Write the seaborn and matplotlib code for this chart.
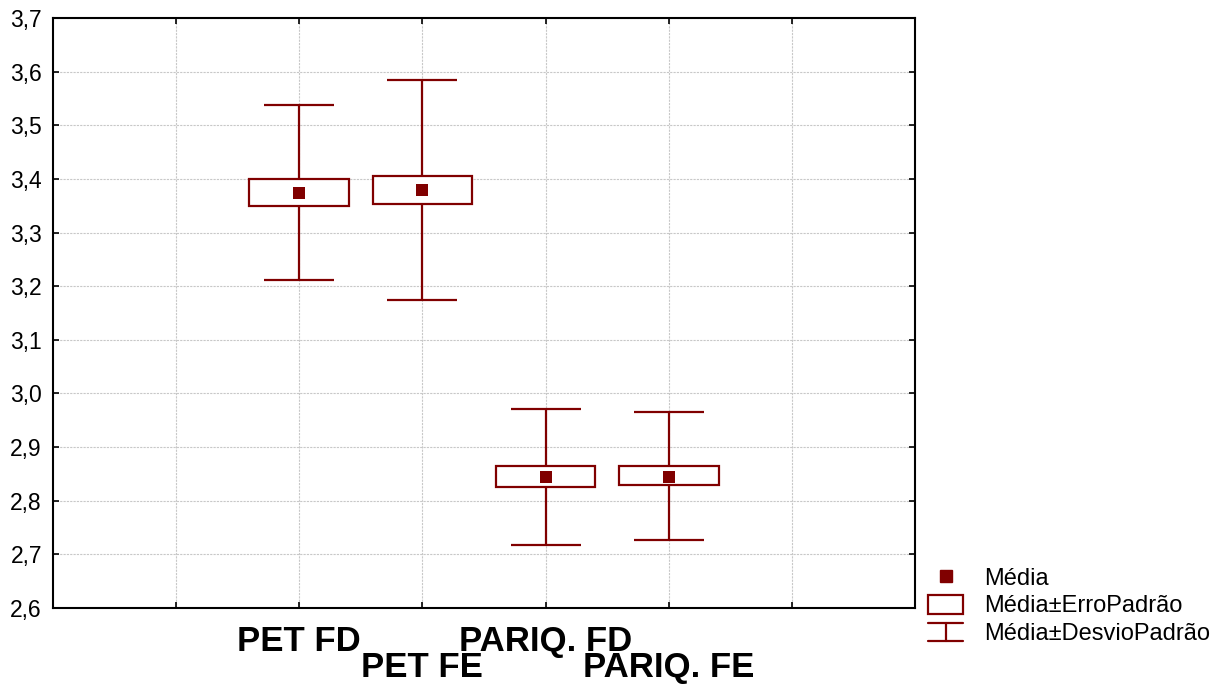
import matplotlib
matplotlib.use("Agg")
import matplotlib.pyplot as plt
import seaborn as sns
import numpy as np
import pandas as pd
from matplotlib.patches import Rectangle, Patch
from matplotlib.lines import Line2D
from matplotlib.legend_handler import HandlerBase
from matplotlib.ticker import FuncFormatter

categories = ["PET FD", "PET FE", "PARIQ. FD", "PARIQ. FE"]
means = [3.373, 3.379, 2.845, 2.845]
se_low = [3.3495, 3.3527, 2.8248, 2.8285]
se_high = [3.399, 3.4055, 2.865, 2.865]
sd_low = [3.212, 3.175, 2.7183, 2.7277]
sd_high = [3.5375, 3.584, 2.9717, 2.9655]
y_ticks = [2.6, 2.7, 2.8, 2.9, 3.0, 3.1, 3.2, 3.3, 3.4, 3.5, 3.6, 3.7]
legend_labels = ["Média", "Média±ErroPadrão", "Média±DesvioPadrão"]

RED = "#800000"

sns.set_style("white")
plt.rcParams["font.family"] = ["Liberation Sans", "DejaVu Sans"]
plt.rcParams["text.color"] = "black"
plt.rcParams["xtick.color"] = "black"
plt.rcParams["ytick.color"] = "black"
plt.rcParams["axes.labelcolor"] = "black"

fig = plt.figure(figsize=(12.3, 6.84), dpi=100)
ax = fig.add_axes([53 / 1230, 1 - 608 / 684, (915 - 53) / 1230, (608 - 18) / 684])

pos = np.arange(len(categories))
df = pd.DataFrame({"x": pos, "mean": means})

# whiskers (SD)
ax.errorbar(pos, means, yerr=[np.array(means) - np.array(sd_low), np.array(sd_high) - np.array(means)],
            fmt="none", ecolor=RED, elinewidth=1.6, capsize=25.5, capthick=1.6, zorder=2)
# boxes (SE)
box_w = 0.81
for xi, lo, hi in zip(pos, se_low, se_high):
    ax.add_patch(Rectangle((xi - box_w / 2, lo), box_w, hi - lo, facecolor="white",
                           edgecolor=RED, linewidth=1.6, zorder=3))
# means
sns.scatterplot(data=df, x="x", y="mean", marker="s", s=85, color=RED, edgecolor=RED,
                linewidth=0, zorder=4, ax=ax, legend=False)

ax.set_xlim(-2, 5)
ax.set_ylim(2.6, 3.7)
ax.set_yticks(y_ticks)
ax.yaxis.set_major_formatter(FuncFormatter(lambda v, p: f"{v:.1f}".replace(".", ",")))
xt = [-1, 0, 1, 2, 3, 4]
ax.set_xticks(xt)
ax.set_xticklabels([""] + categories + [""], fontsize=25, fontweight="bold", color="black")
for i, t in enumerate(ax.xaxis.get_major_ticks()):
    t.set_pad(12 if i % 2 == 1 else 31)
ax.set_xlabel("")
ax.set_ylabel("")
ax.tick_params(axis="y", labelsize=16.5, pad=8)
ax.tick_params(direction="in", length=4, width=1.2, top=True, right=True, bottom=True, left=True,
               color="black")
ax.grid(True, color="#c8c8c8", linestyle=(0, (2, 1)), linewidth=0.8)
for s in ax.spines.values():
    s.set_visible(True)
    s.set_color("black")
    s.set_linewidth(1.5)


class HandlerIBeam(HandlerBase):
    def create_artists(self, legend, orig_handle, xdescent, ydescent, width, height, fontsize, trans):
        x0, x1 = -xdescent, -xdescent + width
        y0, y1 = -ydescent, -ydescent + height
        xm = (x0 + x1) / 2
        arts = [Line2D([x0, x1], [y1, y1], color=RED, lw=1.6),
                Line2D([x0, x1], [y0, y0], color=RED, lw=1.6),
                Line2D([xm, xm], [y0, y1], color=RED, lw=1.6)]
        for a in arts:
            a.set_transform(trans)
        return arts


h_mean = Line2D([], [], marker="s", color=RED, linestyle="none", markersize=8.5)
h_se = Patch(facecolor="white", edgecolor=RED, linewidth=1.6)
h_sd = Line2D([], [], color=RED)
fig.legend([h_mean, h_se, h_sd], legend_labels, handler_map={h_sd: HandlerIBeam()},
           loc="upper left", bbox_to_anchor=(928 / 1230, 1 - 567 / 684), frameon=False,
           fontsize=17, handlelength=1.5, handleheight=0.85, handletextpad=0.88,
           labelspacing=0.22, borderpad=0, borderaxespad=0)

fig.savefig("out.png", dpi=100)
